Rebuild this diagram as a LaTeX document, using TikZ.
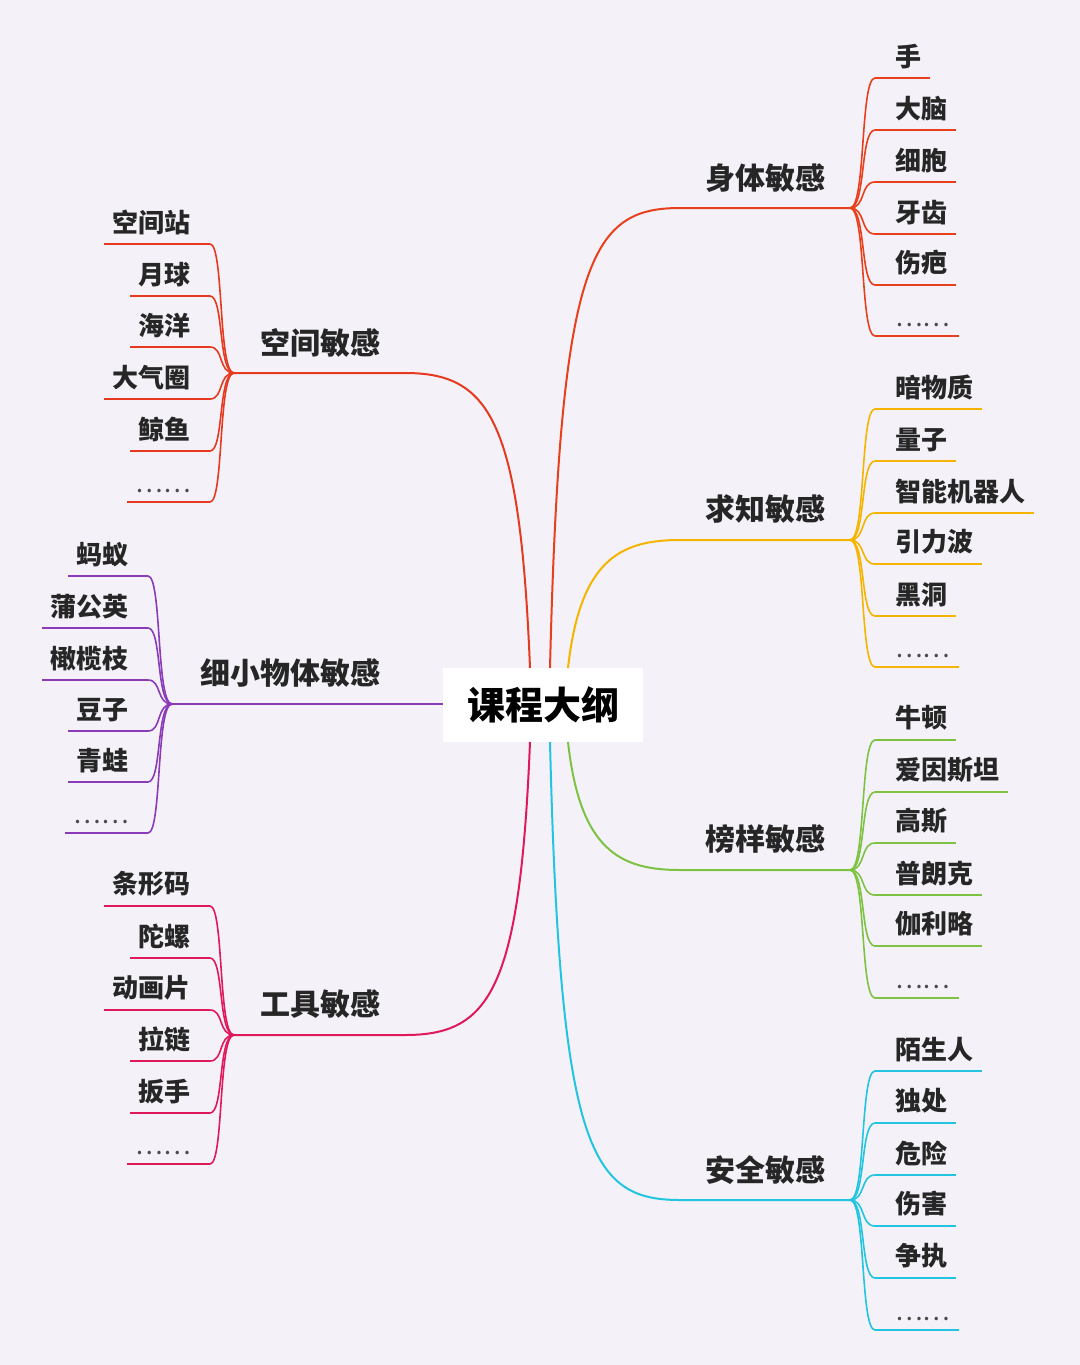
\documentclass[tikz,border=0pt]{standalone}
\usepackage{fontspec}
\setmainfont{Noto Sans CJK SC}
\definecolor{bg}{HTML}{F4F2F8}
\definecolor{cA}{HTML}{E8401C}
\definecolor{cB}{HTML}{F5B400}
\definecolor{cC}{HTML}{7DC242}
\definecolor{cD}{HTML}{22C4E0}
\definecolor{cE}{HTML}{E53A1F}
\definecolor{cF}{HTML}{8B3AB8}
\definecolor{cG}{HTML}{E0195A}
\newcommand{\dotsx}{\mdseries\textcolor{black!70}{……}}
\tikzset{leaf/.style={inner sep=1pt,font=\fontsize{13}{13}\selectfont\bfseries,text=black!85},
 br/.style={inner sep=1pt,font=\fontsize{15}{15}\selectfont\bfseries,text=black!85},
 lk/.style={line width=0.8pt},
 bk/.style={line width=1pt}}
\newcommand{\rleaves}[4]{%
 \coordinate (J#4) at (850,#2);
 \foreach \yy/\tt [count=\i] in {#3}{
  \node[leaf,anchor=south west] (L#4\i) at (893,\yy-7) {\tt};
  \coordinate (S#4\i) at (875,\yy);
  \coordinate (E#4\i) at ([xshift=3pt]L#4\i.south east|-S#4\i);
  \draw[lk,#1] (J#4) .. controls (866,#2) and (860,\yy) .. (S#4\i) -- (E#4\i);
 }}
\newcommand{\lleaves}[5]{%
 \coordinate (J#4) at (#5+24,#2);
 \foreach \yy/\tt [count=\i] in {#3}{
  \node[leaf,anchor=south east] (L#4\i) at (#5-17,\yy-7) {\tt};
  \coordinate (S#4\i) at (#5,\yy);
  \coordinate (E#4\i) at ([xshift=-3pt]L#4\i.south west|-S#4\i);
  \draw[lk,#1] (J#4) .. controls (#5+8,#2) and (#5+14,\yy) .. (S#4\i) -- (E#4\i);
 }}
\begin{document}
\begin{tikzpicture}[x=0.5pt,y=-0.5pt]
\fill[bg] (0,0) rectangle (1080,1365);
\useasboundingbox (0,0) rectangle (1080,1365);
\node[fill=white,minimum width=100pt,minimum height=37pt,inner sep=0pt,font=\fontsize{19}{19}\selectfont\bfseries] (C) at (543,705) {课程大纲};
\node[br] (B1) at (765,178) {身体敏感};
\node[br] (B2) at (765,509) {求知敏感};
\node[br] (B3) at (765,839) {榜样敏感};
\node[br] (B4) at (765,1170) {安全敏感};
\node[br] (B5) at (320,343) {空间敏感};
\node[br] (B6) at (290,673) {细小物体敏感};
\node[br] (B7) at (320,1004) {工具敏感};
\coordinate (c1) at (550,668); \coordinate (c2) at (568,668);
\coordinate (c3) at (568,742); \coordinate (c4) at (550,742);
\coordinate (c5) at (530,668); \coordinate (c7) at (530,742);
\coordinate (a1) at (680,208); \coordinate (a2) at (680,540);
\coordinate (a3) at (680,870); \coordinate (a4) at (680,1200);
\coordinate (a5) at (405,373); \coordinate (a7) at (405,1035);
\draw[bk,cA] (c1) .. controls (560,260) and (590,208) .. (a1) -- (850,208);
\draw[bk,cB] (c2) .. controls (580,560) and (620,540) .. (a2) -- (850,540);
\draw[bk,cC] (c3) .. controls (580,850) and (620,870) .. (a3) -- (850,870);
\draw[bk,cD] (c4) .. controls (560,1150) and (590,1200) .. (a4) -- (850,1200);
\draw[bk,cE] (c5) .. controls (520,420) and (490,373) .. (a5) -- (234,373);
\draw[bk,cG] (c7) .. controls (520,990) and (490,1035) .. (a7) -- (234,1035);
\draw[bk,cF] (C.west|-0,704) -- (172,704);
\rleaves{cA}{208}{78/手,130/大脑,182/细胞,234/牙齿,285/伤疤,336/\dotsx}{a}
\rleaves{cB}{540}{409/暗物质,461/量子,513/智能机器人,564/引力波,616/黑洞,667/\dotsx}{b}
\rleaves{cC}{870}{740/牛顿,792/爱因斯坦,843/高斯,895/普朗克,946/伽利略,998/\dotsx}{c}
\rleaves{cD}{1200}{1071/陌生人,1123/独处,1175/危险,1226/伤害,1278/争执,1330/\dotsx}{d}
\lleaves{cE}{373}{244/空间站,296/月球,347/海洋,399/大气圈,451/鲸鱼,502/\dotsx}{e}{210}
\lleaves{cF}{704}{576/蚂蚁,628/蒲公英,680/橄榄枝,731/豆子,782/青蛙,833/\dotsx}{f}{148}
\lleaves{cG}{1035}{906/条形码,958/陀螺,1010/动画片,1061/拉链,1113/扳手,1164/\dotsx}{g}{210}
\end{tikzpicture}
\end{document}
